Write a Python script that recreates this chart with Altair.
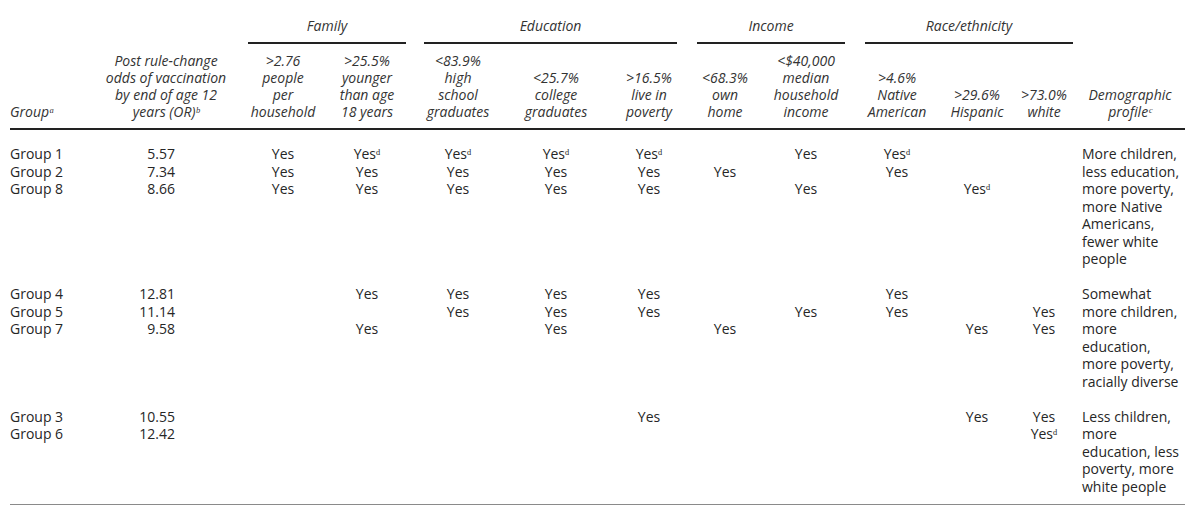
import altair as alt
import pandas as pd

# ---------------- data ----------------
groups = ["Group 1", "Group 2", "Group 8", "Group 4", "Group 5", "Group 7", "Group 3", "Group 6"]
odds = ["5.57", "7.34", "8.66", "12.81", "11.14", "9.58", "10.55", "12.42"]
block_of_group = [0, 0, 0, 1, 1, 1, 2, 2]

# indicator columns: >2.76, >25.5%, <83.9%, <25.7%, >16.5%, <68.3%, <$40,000, >4.6%, >29.6%, >73.0%
Y, D, N = "Yes", "Yesᵈ", ""
indicators = [
    [Y, D, D, D, D, N, Y, D, N, N],  # Group 1
    [Y, Y, Y, Y, Y, Y, N, Y, N, N],  # Group 2
    [Y, Y, Y, Y, Y, N, Y, N, D, N],  # Group 8
    [N, Y, Y, Y, Y, N, N, Y, N, N],  # Group 4
    [N, N, Y, Y, Y, N, Y, Y, N, Y],  # Group 5
    [N, Y, N, Y, N, Y, N, N, Y, Y],  # Group 7
    [N, N, N, N, Y, N, N, N, Y, Y],  # Group 3
    [N, N, N, N, N, N, N, N, N, D],  # Group 6
]

profiles = [
    ["More children,", "less education,", "more poverty,", "more Native", "Americans,", "fewer white", "people"],
    ["Somewhat", "more children,", "more", "education,", "more poverty,", "racially diverse"],
    ["Less children,", "more", "education, less", "poverty, more", "white people"],
]

column_headers = [
    ["Post rule-change", "odds of vaccination", "by end of age 12", "years (OR)ᵇ"],
    [">2.76", "people", "per", "household"],
    [">25.5%", "younger", "than age", "18 years"],
    ["<83.9%", "high", "school", "graduates"],
    ["<25.7%", "college", "graduates"],
    [">16.5%", "live in", "poverty"],
    ["<68.3%", "own", "home"],
    ["<$40,000", "median", "household", "income"],
    [">4.6%", "Native", "American"],
    [">29.6%", "Hispanic"],
    [">73.0%", "white"],
    ["Demographic", "profileᶜ"],
]
group_header = "Groupᵃ"
categories = ["Family", "Education", "Income", "Race/ethnicity"]

# ---------------- layout (pixels in page coordinates) ----------------
COL_X = [166, 283, 367, 458, 556, 649, 725, 806, 897, 977, 1044, 1130]
CAT_SPANS = [(248, 406), (424, 677), (697, 845), (865, 1073)]
LEFT_X = 10
PROFILE_X = 1082
HEAD_BOTTOM = 113
HEAD_LH = 17
CAT_Y = 27
BODY_TOP = 155
BODY_LH = 17.5
FONT = "Open Sans"
FS = 14

# body line index for each block (blank line between blocks)
block_start = []
line = 0
for p in profiles:
    block_start.append(line)
    line += len(p) + 1

def body_y(li):
    return BODY_TOP + BODY_LH * li

head_center, head_left = [], []
for ci, lines in enumerate(column_headers):
    n = len(lines)
    for j, t in enumerate(lines):
        head_center.append({"x": COL_X[ci], "y": HEAD_BOTTOM - HEAD_LH * (n - 1 - j), "t": t})
head_left.append({"x": LEFT_X, "y": HEAD_BOTTOM, "t": group_header})
cat_rows = [{"x": (a + b) / 2, "y": CAT_Y, "t": c} for c, (a, b) in zip(categories, CAT_SPANS)]

body_left, body_right, body_center = [], [], []
row_in_block = [0, 0, 0]
for gi, g in enumerate(groups):
    b = block_of_group[gi]
    li = block_start[b] + row_in_block[b]
    row_in_block[b] += 1
    yv = body_y(li)
    body_left.append({"x": LEFT_X, "y": yv, "t": g})
    body_right.append({"x": 175, "y": yv, "t": odds[gi]})
    for ci, v in enumerate(indicators[gi]):
        if v:
            body_center.append({"x": COL_X[ci + 1], "y": yv, "t": v})
for b, p in enumerate(profiles):
    for k, t in enumerate(p):
        body_left.append({"x": PROFILE_X, "y": body_y(block_start[b] + k), "t": t})

last_line = block_start[-1] + len(profiles[-1]) - 1
thin_rules = [
    {"x": 10, "x2": 1185, "y": 7},
    {"x": 10, "x2": 1185, "y": body_y(last_line) + 17},
]
thick_rules = [{"x": 10, "x2": 1185, "y": 129}] + [{"x": a, "x2": b, "y": 43} for a, b in CAT_SPANS]

W, H = 1184, 503
xs = alt.Scale(domain=[8, 8 + W])
ys = alt.Scale(domain=[8, 8 + H], reverse=True)

def txt(rows, align, italic=False, color="#262626"):
    return alt.Chart(pd.DataFrame(rows)).mark_text(
        align=align, baseline="middle", font=FONT, fontSize=FS,
        fontStyle="italic" if italic else "normal", color=color,
    ).encode(
        x=alt.X("x:Q", scale=xs, axis=None),
        y=alt.Y("y:Q", scale=ys, axis=None),
        text="t:N",
    )

def rules(rows, width, color):
    return alt.Chart(pd.DataFrame(rows)).mark_rule(strokeWidth=width, color=color).encode(
        x=alt.X("x:Q", scale=xs, axis=None),
        x2="x2:Q",
        y=alt.Y("y:Q", scale=ys, axis=None),
    )

chart = alt.layer(
    rules(thin_rules, 1.2, "#8a8a8a"),
    rules(thick_rules, 2, "#222222"),
    txt(cat_rows, "center", True, "#333333"),
    txt(head_center, "center", True, "#333333"),
    txt(head_left, "left", True, "#333333"),
    txt(body_left, "left"),
    txt(body_right, "right"),
    txt(body_center, "center"),
).properties(
    width=W, height=H, padding=0, autosize=alt.AutoSizeParams(type="none"),
).configure_view(stroke=None)

chart.save("out.html", embed_options={"renderer": "svg", "actions": False})
